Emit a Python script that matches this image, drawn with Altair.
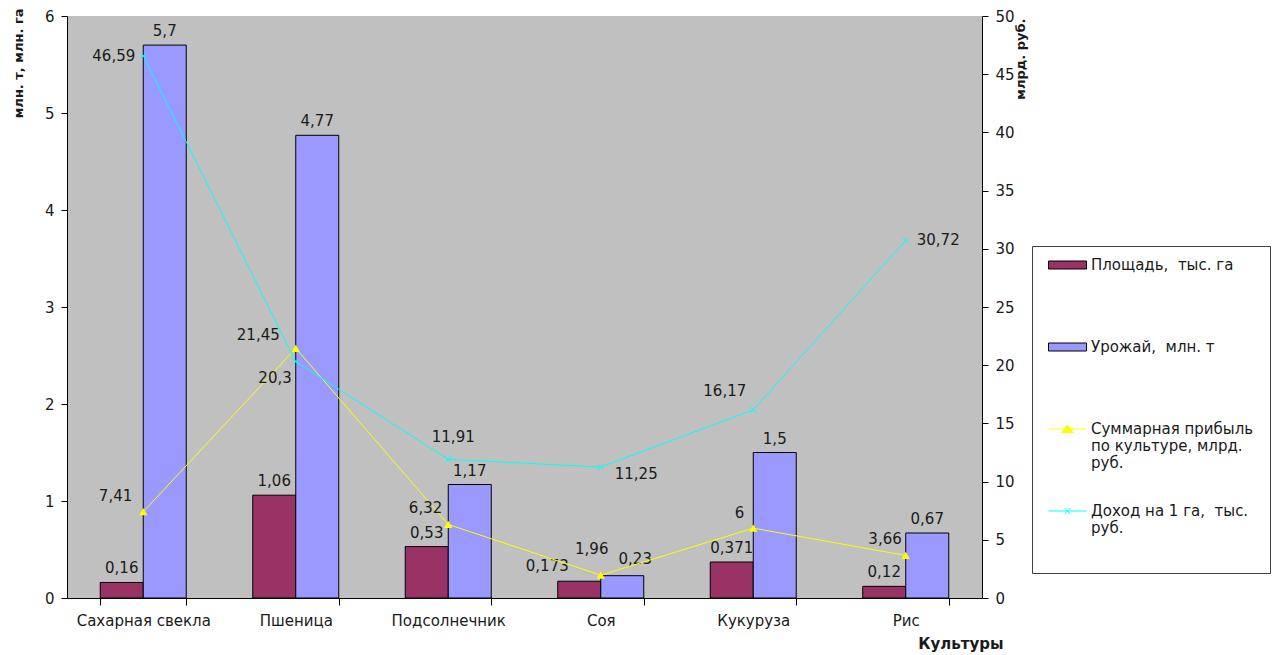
import altair as alt
import pandas as pd

# --- data -------------------------------------------------------------
crops = ["Сахарная свекла", "Пшеница", "Подсолнечник", "Соя", "Кукуруза", "Рис"]
area = [0.16, 1.06, 0.53, 0.173, 0.371, 0.12]          # Площадь
harvest = [5.7, 4.77, 1.17, 0.23, 1.5, 0.67]           # Урожай
profit = [7.41, 21.45, 6.32, 1.96, 6, 3.66]            # Суммарная прибыль
income = [46.59, 20.3, 11.91, 11.25, 16.17, 30.72]     # Доход на 1 га

S_AREA = "Площадь,  тыс. га"
S_HARV = "Урожай,  млн. т"
S_PROF = "Суммарная прибыль по культуре, млрд. руб."
S_INC = "Доход на 1 га,  тыс. руб."
series_order = [S_AREA, S_HARV, S_PROF, S_INC]
fill_colors = ["#993366", "#9999FF", "#FFFF00", "#00FFFF"]
stroke_colors = ["black", "black", "#FFFF00", "#00FFFF"]

left_ticks = [0, 1, 2, 3, 4, 5, 6]
right_ticks = [0, 5, 10, 15, 20, 25, 30, 35, 40, 45, 50]


def fmt(v):
    return f"{v:g}".replace(".", ",")


bar_df = pd.DataFrame(
    [{"crop": c, "series": S_AREA, "value": v} for c, v in zip(crops, area)]
    + [{"crop": c, "series": S_HARV, "value": v} for c, v in zip(crops, harvest)]
)
bar_df["label"] = bar_df["value"].map(fmt)

line_df = pd.DataFrame(
    [{"crop": c, "series": S_PROF, "value": v} for c, v in zip(crops, profit)]
    + [{"crop": c, "series": S_INC, "value": v} for c, v in zip(crops, income)]
)
line_df["label"] = line_df["value"].map(fmt)

# --- styling ----------------------------------------------------------
FONT = "DejaVu Sans"
TXT = "#1a1a1a"
NB = "\u00a0"

W, H = 915, 582
PAD = {"left": 67, "top": 16, "right": 1276 - 67 - W, "bottom": 655 - 16 - H}

# legend label text, wrapped into lines (non-breaking space keeps the double gaps)
wrap = {
    S_AREA: ["Площадь," + NB + " тыс. га"],
    S_HARV: ["Урожай," + NB + " млн. т"],
    S_PROF: ["Суммарная прибыль", "по культуре, млрд.", "руб."],
    S_INC: ["Доход на 1 га," + NB + " тыс.", "руб."],
}
label_expr = ""
for k, lines in wrap.items():
    arr = "[" + ",".join(f"'{s}'" for s in lines) + "]"
    label_expr += f"datum.label == '{k}' ? {arr} : "
label_expr += "datum.label"

# legend glyphs: symbol size 225 -> one path unit is 7.5 px; each glyph is a
# 38 px wide key starting at the entry's left edge, raised to the first text line.
# The leading move-to (and the trailing one on the last key) only pad the
# entry bounds, giving the legend box its top and bottom margins.
TOP = "M0,-1.867"
rect_path = TOP + "M-1,-1.2H4.067V-0.133H-1Z"
tri_path = TOP + "M-1,-0.667H4.067M0.733,-0.2L1.533,-1.2L2.333,-0.2Z"
x_path = TOP + "M-1,-0.667H4.067M1.133,-1.067L1.933,-0.267M1.133,-0.267L1.933,-1.067M0,5.07"

legend = alt.Legend(
    title=None,
    orient="none",
    legendX=965,
    legendY=230,
    direction="vertical",
    fillColor="white",
    strokeColor="#404040",
    padding=16,
    rowPadding=24,
    gridAlign="all",
    labelExpr=label_expr,
    labelFont=FONT,
    labelFontSize=15,
    labelColor=TXT,
    labelLimit=400,
    labelOffset=27,
    labelBaseline="alphabetic",
    symbolSize=225,
    symbolStrokeWidth=1,
    symbolOpacity=1,
)

fill_enc = alt.Fill(
    "series:N", scale=alt.Scale(domain=series_order, range=fill_colors), legend=legend
)
stroke_enc = alt.Stroke(
    "series:N", scale=alt.Scale(domain=series_order, range=stroke_colors), legend=legend
)
shape_enc = alt.Shape(
    "series:N",
    scale=alt.Scale(domain=series_order, range=[rect_path, rect_path, tri_path, x_path]),
    legend=legend,
)

x_enc = alt.X(
    "crop:N",
    sort=crops,
    scale=alt.Scale(paddingInner=0.436, paddingOuter=0.218),
    axis=alt.Axis(
        title="Культуры",
        titleFont=FONT,
        titleFontSize=15,
        titleFontWeight="bold",
        titleColor=TXT,
        titleAlign="right",
        titleBaseline="middle",
        titleX=936,
        titleY=45,
        labelAngle=0,
        labelFont=FONT,
        labelFontSize=15,
        labelColor=TXT,
        labelPadding=8,
        tickBand="extent",
        tickSize=7,
        tickColor="black",
        domainColor="black",
    ),
)

y_left = alt.Y(
    "value:Q",
    scale=alt.Scale(domain=[0, 6], nice=False),
    axis=alt.Axis(
        orient="left",
        values=left_ticks,
        grid=False,
        title="млн. т, млн. га",
        titleFont=FONT,
        titleFontSize=13,
        titleFontWeight="bold",
        titleColor=TXT,
        titleAngle=270,
        titleAlign="right",
        titleBaseline="middle",
        titleX=-49,
        titleY=-8,
        labelFont=FONT,
        labelFontSize=15,
        labelColor=TXT,
        labelPadding=7,
        tickSize=6,
        tickColor="black",
        domainColor="black",
    ),
)

y_right = alt.Y(
    "value:Q",
    scale=alt.Scale(domain=[0, 50], nice=False),
    axis=alt.Axis(
        orient="right",
        values=right_ticks,
        grid=False,
        title="млрд. руб.",
        titleFont=FONT,
        titleFontSize=13,
        titleFontWeight="bold",
        titleColor=TXT,
        titleAngle=270,
        titleAlign="right",
        titleBaseline="middle",
        titleX=38,
        titleY=2,
        labelFont=FONT,
        labelFontSize=15,
        labelColor=TXT,
        labelPadding=7,
        tickSize=6,
        tickColor="black",
        domainColor="black",
    ),
)

offset_enc = alt.XOffset("series:N", scale=alt.Scale(domain=[S_AREA, S_HARV]))

# --- bars (left axis) -------------------------------------------------
bars = alt.Chart(bar_df).mark_bar(strokeWidth=1, opacity=1).encode(
    x=x_enc, xOffset=offset_enc, y=y_left, fill=fill_enc, stroke=stroke_enc
)

# bar value labels sit centred above each bar; the two soy labels are nudged aside
bar_label_moves = {(S_AREA, "Соя"): (-32, -15), (S_HARV, "Соя"): (13, -17)}
bar_text_layers = [
    alt.Chart(bar_df)
    .transform_filter(alt.datum.crop != "Соя")
    .mark_text(font=FONT, fontSize=15, color=TXT, baseline="middle", dy=-14)
    .encode(x=x_enc, xOffset=offset_enc, y=y_left, text="label:N")
]
for (s, c), (dx, dy) in bar_label_moves.items():
    bar_text_layers.append(
        alt.Chart(bar_df)
        .transform_filter((alt.datum.series == s) & (alt.datum.crop == c))
        .mark_text(font=FONT, fontSize=15, color=TXT, baseline="middle", dx=dx, dy=dy)
        .encode(x=x_enc, xOffset=offset_enc, y=y_left, text="label:N")
    )
bar_layer = alt.layer(bars, *bar_text_layers)

# --- lines (right axis) -----------------------------------------------
lines = alt.Chart(line_df).mark_line(strokeWidth=1).encode(
    x=x_enc, y=y_right, stroke=stroke_enc
)
tri = alt.Chart(line_df).transform_filter(alt.datum.series == S_PROF).mark_point(
    shape="triangle-up", filled=True, size=70, opacity=1
).encode(x=x_enc, y=y_right, fill=fill_enc)
cross = alt.Chart(line_df).transform_filter(alt.datum.series == S_INC).mark_point(
    shape="M-1,-1L1,1M-1,1L1,-1", filled=False, size=36, strokeWidth=1, opacity=1
).encode(x=x_enc, y=y_right, stroke=stroke_enc)
# carries the shape scale for the legend only; it draws no marks
legend_keys = alt.Chart(line_df).transform_filter("false").mark_point(
    filled=True, opacity=1
).encode(x=x_enc, y=y_right, fill=fill_enc, stroke=stroke_enc, shape=shape_enc)

# label placement for each line point: (align, dx, dy)
placement = {
    S_PROF: {
        "Сахарная свекла": ("right", -11, -16),
        "Пшеница": ("right", -16, -13),
        "Подсолнечник": ("right", -6, -16),
        "Соя": ("center", -9, -26),
        "Кукуруза": ("right", -9, -15),
        "Рис": ("right", -4, -16),
    },
    S_INC: {
        "Сахарная свекла": ("right", -8, 0),
        "Пшеница": ("right", -4, 16),
        "Подсолнечник": ("center", 5, -22),
        "Соя": ("left", 14, 7),
        "Кукуруза": ("right", -7, -19),
        "Рис": ("left", 11, 0),
    },
}

line_labels = []
for s, per_crop in placement.items():
    for c, (align, dx, dy) in per_crop.items():
        line_labels.append(
            alt.Chart(line_df)
            .transform_filter((alt.datum.series == s) & (alt.datum.crop == c))
            .mark_text(
                font=FONT, fontSize=15, color=TXT, baseline="middle",
                align=align, dx=dx, dy=dy,
            )
            .encode(x=x_enc, y=y_right, text="label:N")
        )

line_layer = alt.layer(lines, tri, cross, legend_keys, *line_labels)

chart = (
    alt.layer(bar_layer, line_layer)
    .resolve_scale(y="independent")
    .properties(
        width=W,
        height=H,
        padding=PAD,
        autosize=alt.AutoSizeParams(type="none"),
        background="white",
    )
    .configure_view(fill="#C0C0C0", stroke=None)
)

chart.save("out.html", embed_options={"renderer": "svg", "actions": False})
